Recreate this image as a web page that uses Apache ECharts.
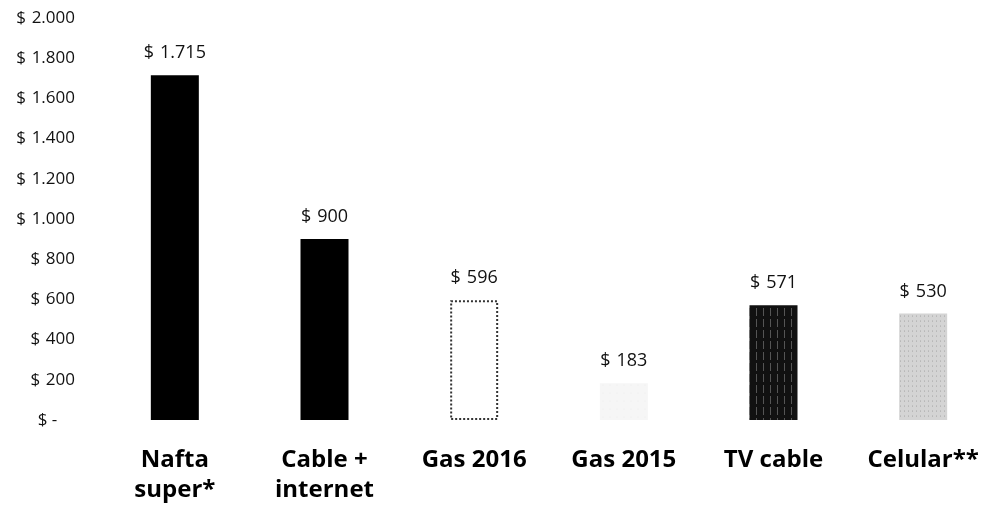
<!DOCTYPE html>
<html>
<head>
<meta charset="utf-8">
<script src="https://cdn.jsdelivr.net/npm/echarts@6/dist/echarts.min.js"></script>
<style>
  html, body { margin: 0; padding: 0; background: #fff; }
  #chart { width: 998px; height: 509px; }
</style>
</head>
<body>
<div id="chart"></div>
<script>
// categorias y montos
const categories = ['Nafta\nsuper*', 'Cable +\ninternet', 'Gas 2016', 'Gas 2015', 'TV cable', 'Celular**']
const values = [1715, 900, 596, 183, 571, 530]

// formato contable: $ 1.715 / $ -
const money = (v) => v === 0 ? '$ -    ' : '$\u2004' + v.toLocaleString('de-DE')

const chart = echarts.init(document.getElementById('chart'))

// estilo de cada barra (imitando las texturas del original)
const barStyles = [
  { color: '#000' },
  { color: '#000' },
  { color: '#fff', borderColor: '#333', borderWidth: 2, borderType: 'dotted' },
  { color: '#f6f6f6', decal: { symbol: 'circle', symbolSize: 0.3, color: '#d0d0d0', dashArrayX: [2, 5], dashArrayY: [2, 6] } },
  { color: '#111', decal: { symbol: 'rect', color: '#555', dashArrayX: [1, 6], dashArrayY: [8, 3] } },
  { color: '#d4d4d4', decal: { symbol: 'circle', symbolSize: 0.8, color: '#666', dashArrayX: [1, 3], dashArrayY: [2, 3] } }
]

chart.setOption({
  textStyle: { fontFamily: '"Open Sans", sans-serif' },
  grid: { left: 100, right: -11, top: 18, bottom: 89 },
  xAxis: {
    type: 'category',
    data: categories,
    axisLine: { show: false },
    axisTick: { show: false },
    axisLabel: {
      margin: 25,
      fontSize: 24,
      fontWeight: 'bold',
      color: '#000',
      lineHeight: 30
    }
  },
  yAxis: {
    type: 'value',
    min: 0,
    max: 2000,
    interval: 200,
    splitLine: { show: false },
    axisLine: { show: false },
    axisTick: { show: false },
    axisLabel: {
      margin: 25,
      fontSize: 17,
      color: '#111',
      formatter: money
    }
  },
  series: [{
    type: 'bar',
    barWidth: 48,
    data: values.map((v, i) => ({ value: v, itemStyle: barStyles[i] })),
    label: {
      show: true,
      position: 'top',
      distance: 13,
      fontSize: 18,
      color: '#111',
      formatter: (p) => money(p.value)
    }
  }]
})
</script>
</body>
</html>
